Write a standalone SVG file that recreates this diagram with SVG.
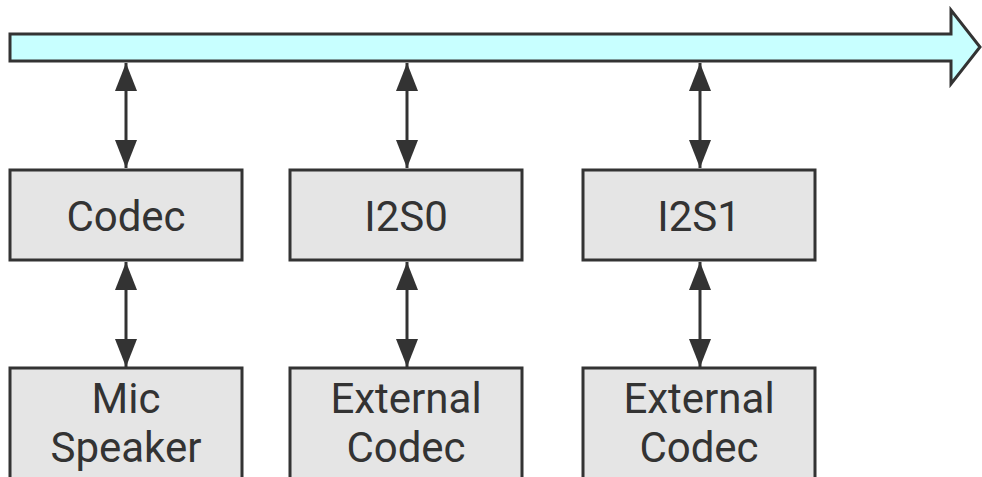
<svg xmlns="http://www.w3.org/2000/svg" width="982" height="477" viewBox="0 0 982 477">
<defs>
<style>
.box{fill:#e5e5e5;stroke:#333;stroke-width:3}
.lbl{font-family:Roboto,"Liberation Sans",sans-serif;font-size:42px;fill:#333;text-anchor:middle}
.conn{stroke:#333;stroke-width:3;fill:none}
</style>
<marker id="ah" markerUnits="userSpaceOnUse" markerWidth="30" markerHeight="22" viewBox="0 0 30 22" refX="28" refY="11" orient="auto-start-reverse">
<path d="M0,0 L28,11 L0,22 Z" fill="#333"/>
</marker>
</defs>
<g id="bus">
<path d="M10,34 L951,34 L951,10 L980,47 L951,84 L951,61 L10,61 Z" fill="#c8ffff" stroke="#333" stroke-width="3" stroke-linejoin="miter"/>
</g>
<g id="connectors">
<line class="conn" x1="126" y1="63" x2="126" y2="168" marker-start="url(#ah)" marker-end="url(#ah)"/>
<line class="conn" x1="407" y1="63" x2="407" y2="168" marker-start="url(#ah)" marker-end="url(#ah)"/>
<line class="conn" x1="700" y1="63" x2="700" y2="168" marker-start="url(#ah)" marker-end="url(#ah)"/>
<line class="conn" x1="126" y1="262" x2="126" y2="367" marker-start="url(#ah)" marker-end="url(#ah)"/>
<line class="conn" x1="407" y1="262" x2="407" y2="367" marker-start="url(#ah)" marker-end="url(#ah)"/>
<line class="conn" x1="700" y1="262" x2="700" y2="367" marker-start="url(#ah)" marker-end="url(#ah)"/>
</g>
<g id="codec">
<rect class="box" x="10" y="170" width="232" height="90"/>
<text class="lbl" x="126" y="231">Codec</text>
</g>
<g id="i2s0">
<rect class="box" x="290" y="170" width="232" height="90"/>
<text class="lbl" x="406" y="231">I2S0</text>
</g>
<g id="i2s1">
<rect class="box" x="583" y="170" width="232" height="90"/>
<text class="lbl" x="699" y="231">I2S1</text>
</g>
<g id="mic-speaker">
<rect class="box" x="10" y="368" width="232" height="130"/>
<text class="lbl" x="126" y="413">Mic</text>
<text class="lbl" x="126" y="462">Speaker</text>
</g>
<g id="ext-codec-0">
<rect class="box" x="290" y="368" width="232" height="130"/>
<text class="lbl" x="406" y="413">External</text>
<text class="lbl" x="406" y="462">Codec</text>
</g>
<g id="ext-codec-1">
<rect class="box" x="583" y="368" width="232" height="130"/>
<text class="lbl" x="699" y="413">External</text>
<text class="lbl" x="699" y="462">Codec</text>
</g>
</svg>
